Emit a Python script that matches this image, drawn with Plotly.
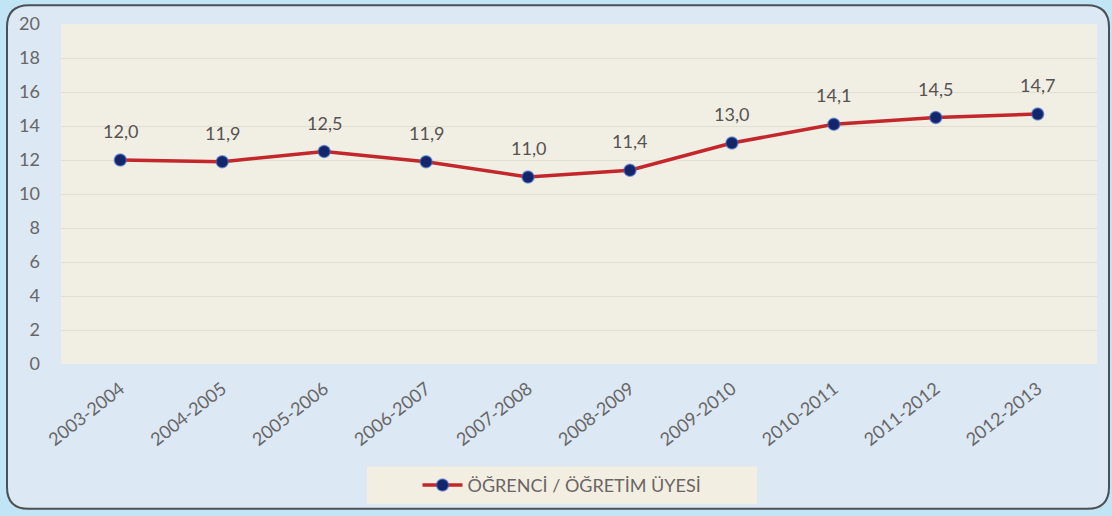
import plotly.graph_objects as go

# Student / faculty member ratio by academic year
years = ["2003-2004", "2004-2005", "2005-2006", "2006-2007", "2007-2008",
         "2008-2009", "2009-2010", "2010-2011", "2011-2012", "2012-2013"]
ratio = [12.0, 11.9, 12.5, 11.9, 11.0, 11.4, 13.0, 14.1, 14.5, 14.7]
series_name = "ÖĞRENCİ / ÖĞRETİM ÜYESİ"
y_ticks = [0, 2, 4, 6, 8, 10, 12, 14, 16, 18, 20]

W, H = 1112, 516
L, R, T, B = 61, 15, 21, 150
PW, PH = W - L - R, H - T - B
FONT = "Lato, Open Sans, sans-serif"
GREY = "#686666"


def px_x(p):
    return (p - L) / PW


def px_y(p):
    return (H - B - p) / PH


fig = go.Figure()
fig.add_trace(go.Scatter(
    x=years, y=ratio, mode="lines+markers", name=series_name,
    line=dict(color="#c3262b", width=3.5),
    marker=dict(color="#14266b", size=12,
                line=dict(color="rgba(70,110,200,0.6)", width=1.5)),
))

# value labels above each point
for x, v in zip(years, ratio):
    fig.add_annotation(x=x, y=v, text=f"{v:.1f}".replace(".", ","),
                       showarrow=False, yshift=29,
                       font=dict(family=FONT, size=18, color="#555353"))

# rounded outer frame
x0, x1 = px_x(7), px_x(1109)
y0, y1 = px_y(513), px_y(2)
rx, ry = 22 / PW, 22 / PH
frame = (f"M {x0+rx},{y1} L {x1-rx},{y1} Q {x1},{y1} {x1},{y1-ry} "
         f"L {x1},{y0+ry} Q {x1},{y0} {x1-rx},{y0} "
         f"L {x0+rx},{y0} Q {x0},{y0} {x0},{y0+ry} "
         f"L {x0},{y1-ry} Q {x0},{y1} {x0+rx},{y1} Z")
fig.add_shape(type="path", path=frame, xref="paper", yref="paper",
              fillcolor="#dce8f4", line=dict(color="#4d4f52", width=2),
              layer="below")
# plot area fill
fig.add_shape(type="rect", xref="paper", yref="paper",
              x0=0, x1=1, y0=0, y1=1,
              fillcolor="#f1eee3", line=dict(width=0), layer="below")
# legend box
fig.add_shape(type="rect", xref="paper", yref="paper",
              x0=px_x(367), x1=px_x(757), y0=px_y(508), y1=px_y(470),
              fillcolor="#f2efe2", line=dict(width=0), layer="below")

fig.update_layout(
    width=W, height=H,
    margin=dict(l=L, r=R, t=T, b=B),
    paper_bgcolor="#c2e5f6",
    plot_bgcolor="#f1eee3",
    showlegend=True,
    legend=dict(orientation="h", x=px_x(562), xanchor="center",
                y=px_y(489), yanchor="middle", bgcolor="rgba(0,0,0,0)",
                font=dict(family=FONT, size=18, color="#6b6565"),
                itemwidth=40),
    xaxis=dict(type="category", tickangle=-38, showgrid=False,
               showline=False, ticks="", ticklabelstandoff=10,
               tickfont=dict(family=FONT, size=18, color=GREY)),
    yaxis=dict(range=[0, 20], tickvals=y_ticks, showgrid=True,
               gridcolor="#e2dfd2", gridwidth=1, zeroline=False,
               showline=False, ticks="", ticklabelstandoff=20,
               tickfont=dict(family=FONT, size=18, color=GREY)),
)

fig.write_html("out.html")
